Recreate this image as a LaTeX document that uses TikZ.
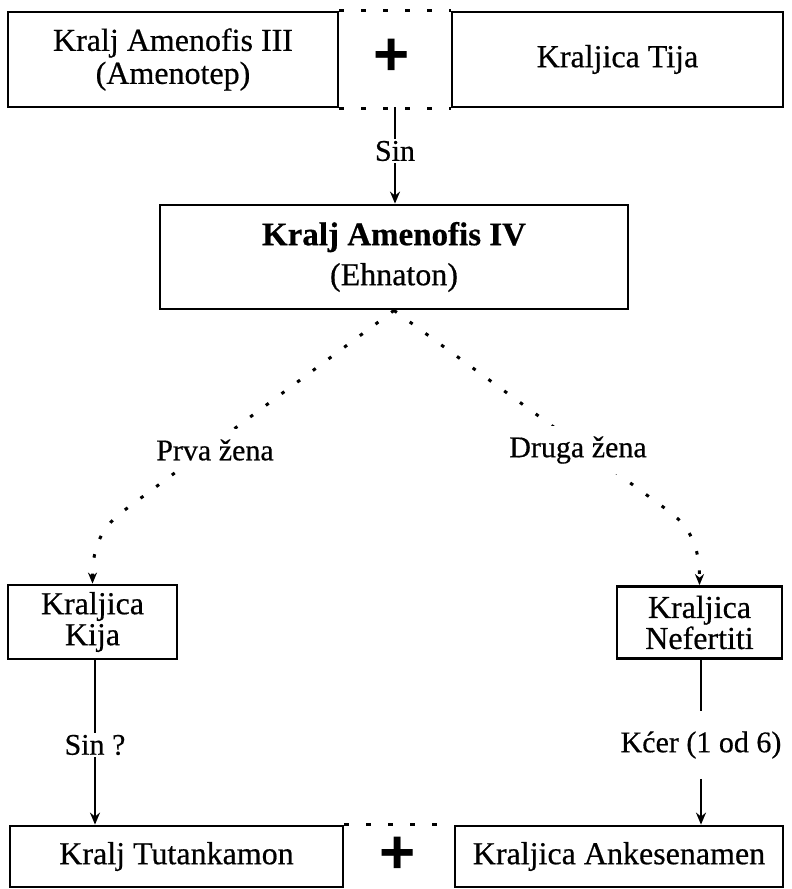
\documentclass[tikz,border=0pt]{standalone}
\usepackage{fontspec}
\setmainfont[FakeBold=0.5]{Liberation Serif}
\newfontfamily\plusfont{Liberation Sans}
\usetikzlibrary{arrows.meta}
\begin{document}
\begin{tikzpicture}[x=1pt,y=1pt,
  box/.style={draw, line width=2.8pt, inner sep=0pt, align=center, font=\fontsize{32}{33}\selectfont},
  lbl/.style={font=\fontsize{30}{30}\selectfont, inner sep=2pt},
  conn/.style={line width=1.9pt},
  arr/.style={conn, -{Stealth[length=12pt,width=10pt]}},
  dotl/.style={line width=3pt, dash pattern=on 5pt off 17pt},
  diag/.style={line width=3pt, dash pattern=on 3.5pt off 16pt, -{Stealth[length=11pt,width=9pt]}},
  plussign/.style={font=\plusfont\bfseries\fontsize{62}{62}\selectfont, inner sep=0pt}]
\useasboundingbox (0,0) rectangle (792,-889);

% top couple
\node[box, minimum width=330, minimum height=95] (a) at (173,-59.5) {Kralj Amenofis III\\(Amenotep)};
\node[box, minimum width=331, minimum height=95] (b) at (617.5,-59.5) {Kraljica Tija};
\node[plussign] (p1) at (392,-57) {+};
\draw[dotl] (a.north east) -- (b.north west);
\draw[dotl] (a.south east) -- (b.south west);
\coordinate (m1) at (395,-107);

% son
\node[lbl] (sin1) at (395,-151) {Sin};
\node[box, minimum width=468, minimum height=104, font=\fontsize{32}{40}\selectfont] (c) at (394,-257)
  {{\bfseries\fontsize{33}{40}\selectfont Kralj Amenofis IV}\\(Ehnaton)};
\draw[conn] (m1) -- (sin1.north);
\draw[arr] (sin1.south) -- (sin1.south |- c.north);

% wives
\node[box, minimum width=169, minimum height=74, font=\fontsize{32}{31}\selectfont] (kija) at (92.5,-622) {Kraljica\\Kija};
\node[box, minimum width=165, minimum height=72, font=\fontsize{32}{31}\selectfont] (nef) at (699.5,-622.5) {Kraljica\\Nefertiti};

\draw[diag] (c.south) -- (122,-512) to[out=-143,in=90] (kija.north);
\draw[diag] (c.south) -- (670,-512) to[out=-37,in=90] (nef.north);
\node[lbl, fill=white, inner xsep=8pt, inner ysep=10pt] (prva) at (215,-450) {Prva žena};
\node[lbl, fill=white, inner xsep=8pt, inner ysep=10pt] (druga) at (578,-450) {Druga žena};

% children
\node[lbl] (sin2) at (95,-745) {Sin ?};
\node[lbl, inner ysep=20pt] (kcer) at (701,-745) {Kćer (1 od 6)};
\node[box, minimum width=333, minimum height=61] (tut) at (176.5,-856.5) {Kralj Tutankamon};
\node[box, minimum width=328, minimum height=61] (ank) at (619,-856.5) {Kraljica Ankesenamen};
\draw[conn] (sin2 |- kija.south) -- (sin2.north);
\draw[arr] (sin2.south) -- (sin2 |- tut.north);
\draw[conn] (kcer |- nef.south) -- (kcer.north);
\draw[arr] (kcer.south) -- (kcer |- ank.north);
\draw[dotl] (tut.north east) -- (ank.north west);
\node[plussign] (p2) at (398,-855) {+};
\end{tikzpicture}
\end{document}
